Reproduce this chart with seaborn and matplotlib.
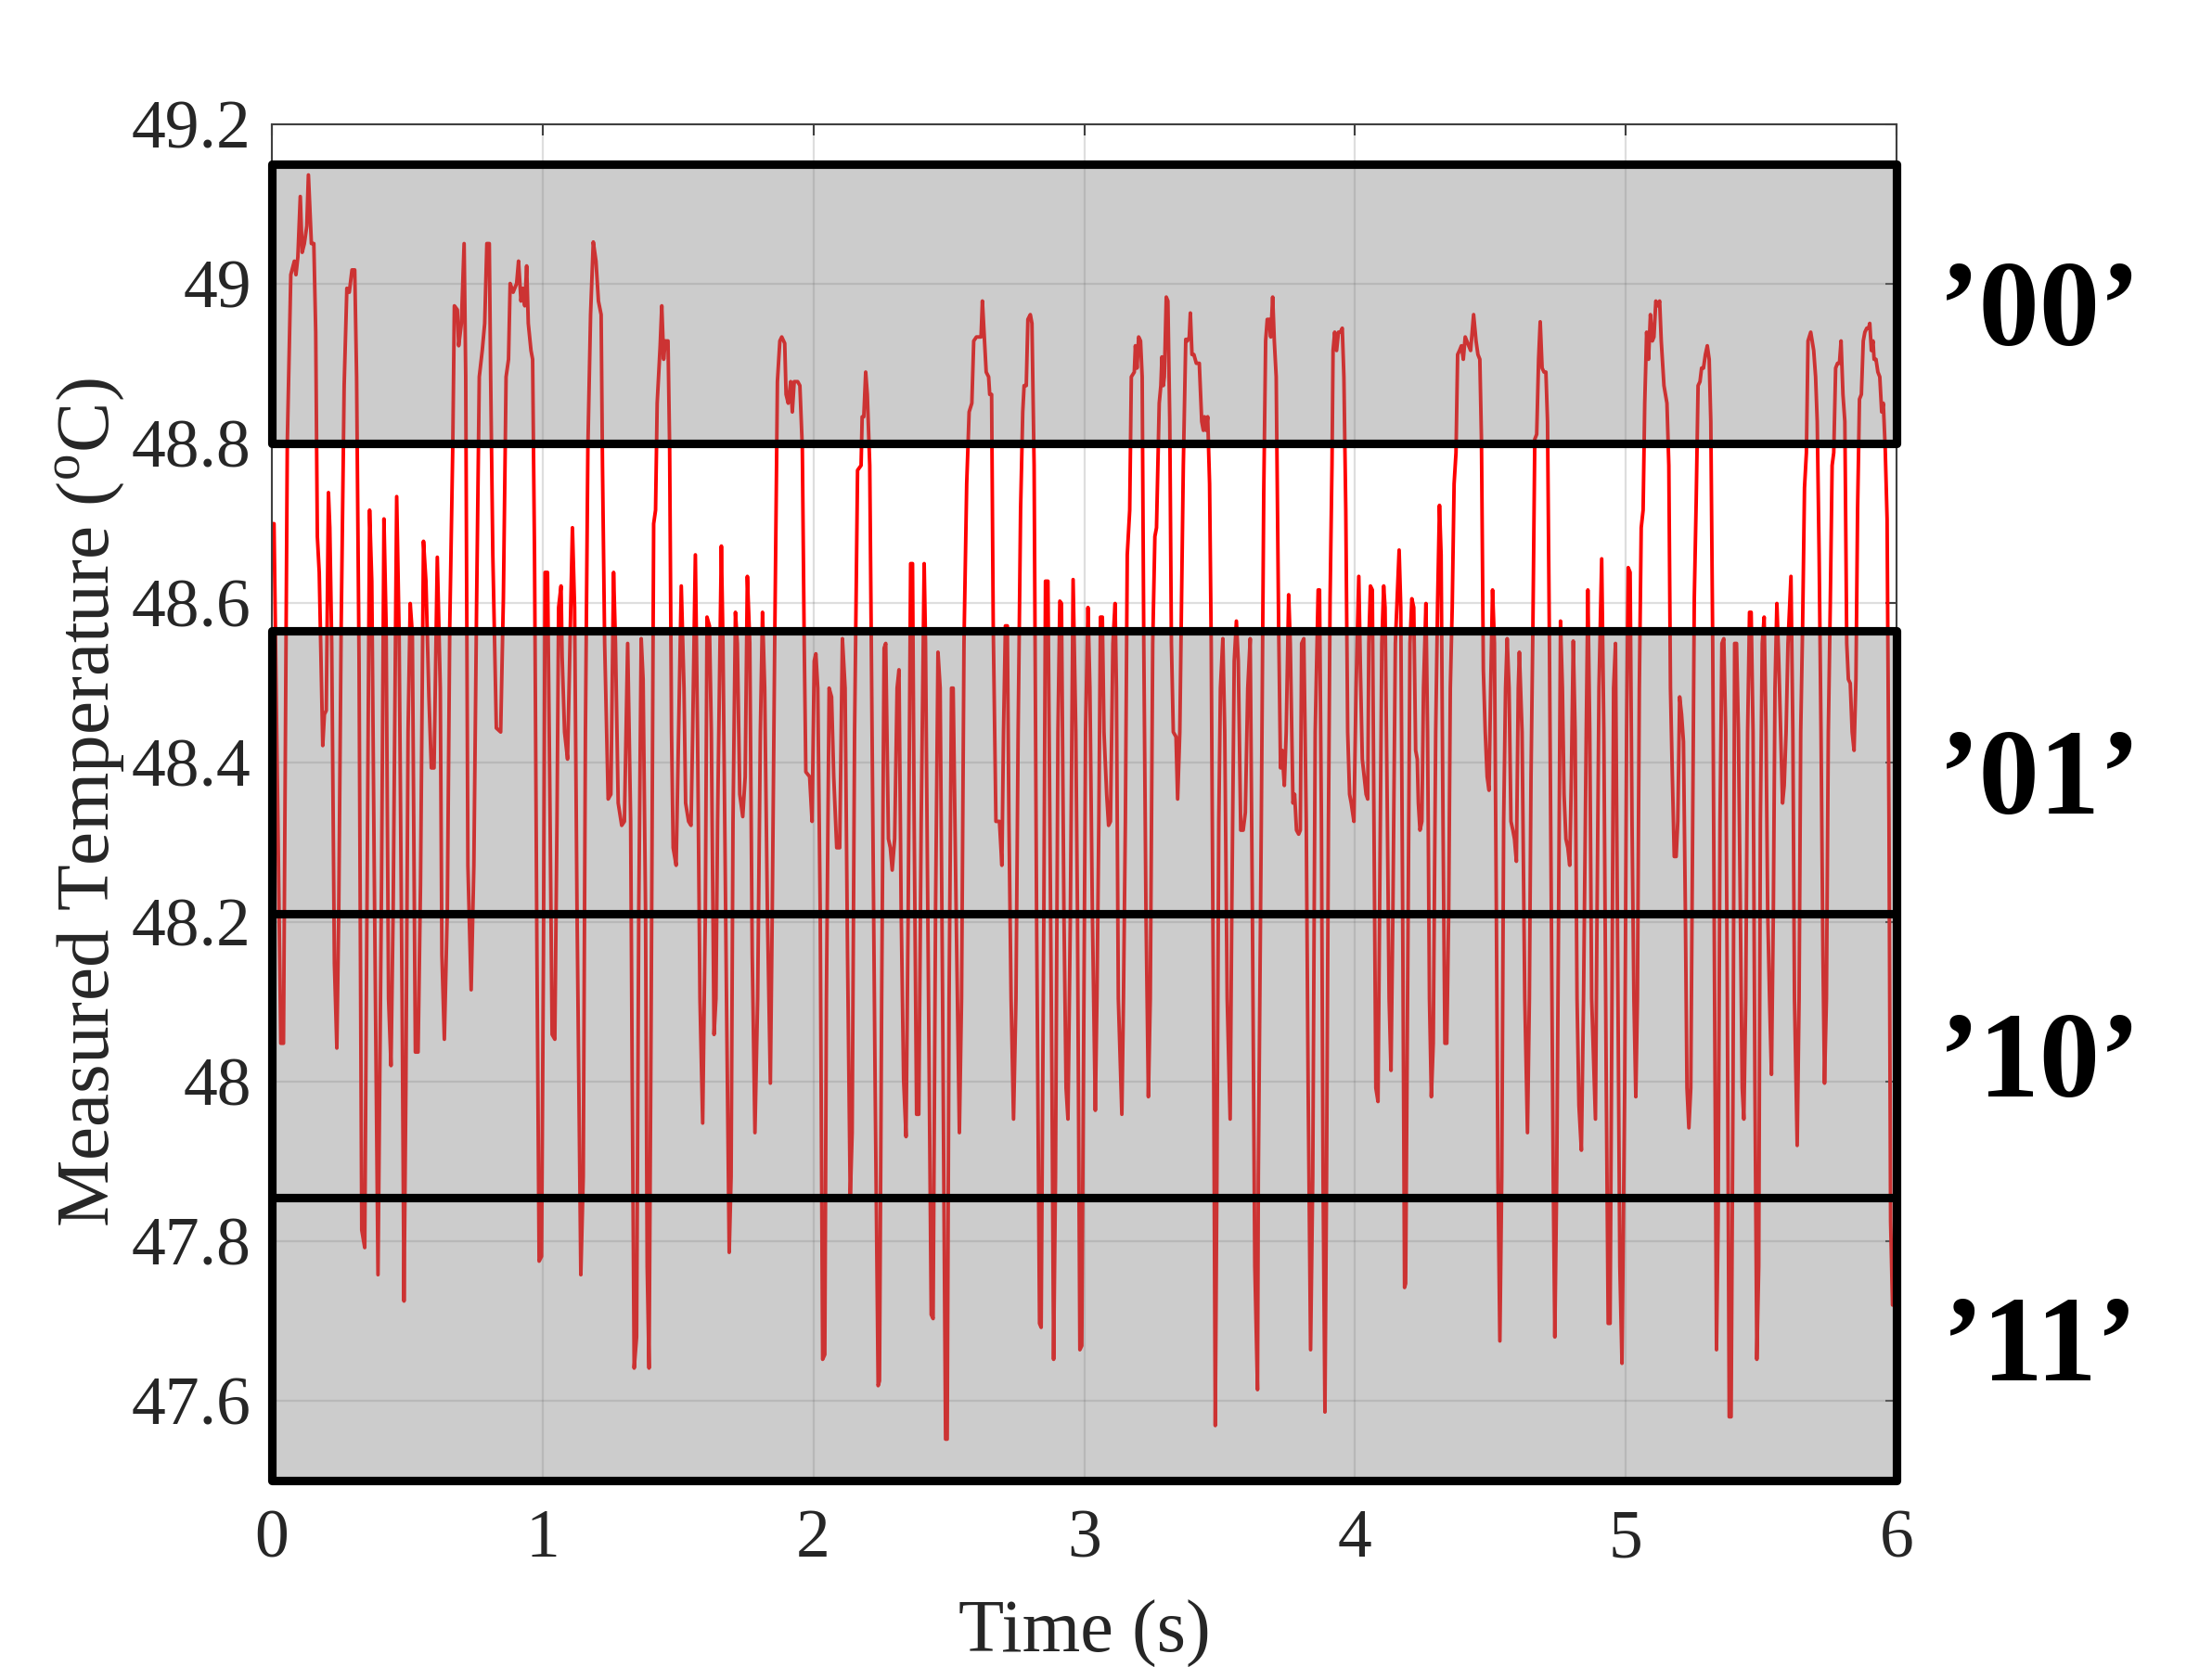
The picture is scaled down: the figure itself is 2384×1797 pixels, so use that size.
import matplotlib
matplotlib.use("Agg")
import matplotlib.pyplot as plt
from matplotlib.patches import Rectangle
from matplotlib.ticker import FuncFormatter
from matplotlib.transforms import ScaledTranslation
import seaborn as sns
import pandas as pd

# ---------------- data ----------------
time_a = [
    0.002, 0.008, 0.033, 0.043, 0.057, 0.070, 0.083, 0.089, 0.096, 0.105,
    0.112, 0.120, 0.129, 0.135, 0.146, 0.155, 0.162, 0.168, 0.175, 0.188,
    0.194, 0.201, 0.209, 0.214, 0.221, 0.231, 0.240, 0.247, 0.256, 0.267,
    0.277, 0.286, 0.296, 0.306, 0.313, 0.322, 0.332, 0.343, 0.352, 0.361,
    0.369, 0.378, 0.392, 0.405, 0.414, 0.422, 0.431, 0.440, 0.448, 0.461,
    0.470, 0.481, 0.488, 0.495, 0.503, 0.511, 0.519, 0.530, 0.540, 0.549,
    0.560, 0.569, 0.580, 0.589, 0.599, 0.611, 0.622, 0.628, 0.637, 0.648,
    0.657, 0.668, 0.674, 0.685, 0.690, 0.700, 0.710, 0.716, 0.724, 0.736,
    0.746, 0.756, 0.766, 0.777, 0.786, 0.794, 0.803, 0.808, 0.816, 0.829,
    0.845, 0.855, 0.865, 0.874, 0.880, 0.891, 0.897, 0.904, 0.911, 0.920,
    0.926, 0.934, 0.941, 0.947, 0.957, 0.963, 0.970, 0.979, 0.987, 0.996,
    1.003, 1.009, 1.018, 1.026, 1.035, 1.045, 1.053, 1.059, 1.068, 1.072,
    1.081, 1.092, 1.101, 1.110, 1.118, 1.127, 1.141, 1.150, 1.158, 1.167,
    1.177, 1.187, 1.197, 1.206, 1.216, 1.221, 1.229, 1.242, 1.252, 1.262,
    1.269, 1.279, 1.292, 1.302, 1.314, 1.325, 1.331, 1.338, 1.347, 1.355,
    1.364, 1.371, 1.380, 1.386, 1.393, 1.401, 1.410, 1.417, 1.423, 1.434,
    1.440, 1.447, 1.453, 1.463, 1.469, 1.476, 1.482, 1.493, 1.502, 1.512,
    1.522, 1.528, 1.539, 1.548, 1.554, 1.564, 1.572, 1.581, 1.591, 1.601,
    1.607, 1.616, 1.623, 1.633, 1.640, 1.646, 1.660, 1.666, 1.679, 1.689,
    1.696, 1.703, 1.712, 1.719, 1.728, 1.739, 1.748, 1.756, 1.765, 1.774,
    1.784, 1.794, 1.804, 1.812, 1.820, 1.830, 1.841, 1.848, 1.857, 1.867,
    1.876, 1.883, 1.894, 1.899, 1.907, 1.916, 1.922, 1.929, 1.942,
]
temp_a = [
    48.699, 48.699, 48.048, 48.048, 48.800, 49.011, 49.028, 49.011, 49.033, 49.109,
    49.039, 49.050, 49.072, 49.136, 49.050, 49.050, 48.939, 48.683, 48.638, 48.421,
    48.460, 48.465, 48.738, 48.694, 48.549, 48.148, 48.042, 48.215, 48.571, 48.872,
    48.994, 48.989, 49.017, 49.017, 48.883, 48.527, 47.814, 47.792, 48.248, 48.716,
    48.627, 48.271, 47.758, 48.248, 48.705, 48.571, 48.104, 48.020, 48.215, 48.733,
    48.560, 48.104, 47.725, 47.992, 48.438, 48.599, 48.560, 48.037, 48.037, 48.248,
    48.677, 48.627, 48.482, 48.393, 48.393, 48.657, 48.493, 48.159, 48.053, 48.215,
    48.571, 48.794, 48.972, 48.967, 48.922, 48.950, 49.050, 48.883, 48.271, 48.115,
    48.271, 48.594, 48.883, 48.916, 48.950, 49.050, 49.050, 48.883, 48.660, 48.443,
    48.438, 48.605, 48.883, 48.905, 49.000, 48.989, 48.994, 49.000, 49.028, 48.978,
    48.994, 48.972, 49.022, 48.950, 48.916, 48.905, 48.660, 48.159, 47.775, 47.781,
    48.159, 48.638, 48.638, 48.382, 48.059, 48.053, 48.326, 48.594, 48.621, 48.532,
    48.438, 48.404, 48.549, 48.694, 48.594, 48.215, 47.758, 47.881, 48.438, 48.794,
    48.961, 49.052, 49.028, 48.978, 48.961, 48.772, 48.549, 48.354, 48.360, 48.638,
    48.549, 48.349, 48.321, 48.326, 48.549, 48.326, 47.992, 47.641, 47.680, 48.215,
    48.555, 48.504, 48.215, 47.769, 47.641, 48.104, 48.699, 48.716, 48.850, 48.922,
    48.972, 48.905, 48.928, 48.928, 48.794, 48.438, 48.293, 48.271, 48.438, 48.621,
    48.493, 48.349, 48.326, 48.321, 48.438, 48.660, 48.438, 48.104, 47.948, 48.215,
    48.582, 48.571, 48.438, 48.059, 48.104, 48.326, 48.671, 48.549, 48.104, 47.786,
    47.881, 48.326, 48.588, 48.549, 48.360, 48.332, 48.382, 48.633, 48.549, 48.159,
    47.936, 48.104, 48.438, 48.588, 48.493, 48.215, 47.998, 48.215, 48.549, 48.877,
    48.928, 48.933, 48.925, 48.861, 48.850, 48.877, 48.839, 48.877, 48.877,
]

time_b = [
    1.950, 1.959, 1.966, 1.972, 1.986, 1.995, 2.003, 2.009, 2.016, 2.025,
    2.034, 2.042, 2.048, 2.058, 2.067, 2.075, 2.086, 2.097, 2.107, 2.117,
    2.126, 2.136, 2.143, 2.152, 2.163, 2.176, 2.180, 2.186, 2.193, 2.199,
    2.208, 2.218, 2.228, 2.239, 2.244, 2.252, 2.261, 2.267, 2.277, 2.284,
    2.291, 2.300, 2.309, 2.316, 2.324, 2.333, 2.342, 2.350, 2.359, 2.366,
    2.372, 2.381, 2.389, 2.398, 2.409, 2.414, 2.425, 2.435, 2.442, 2.451,
    2.460, 2.468, 2.477, 2.488, 2.494, 2.501, 2.510, 2.516, 2.527, 2.539,
    2.547, 2.556, 2.566, 2.575, 2.585, 2.592, 2.602, 2.611, 2.619, 2.624,
    2.632, 2.638, 2.647, 2.651, 2.658, 2.664, 2.674, 2.687, 2.696, 2.702,
    2.709, 2.716, 2.722, 2.730, 2.739, 2.748, 2.756, 2.765, 2.773, 2.778,
    2.786, 2.792, 2.801, 2.807, 2.815, 2.824, 2.835, 2.841, 2.851, 2.857,
    2.866, 2.873, 2.881, 2.887, 2.894, 2.903, 2.910, 2.916, 2.925, 2.933,
    2.940, 2.949, 2.959, 2.969, 2.975, 2.984, 2.991, 2.999, 3.005, 3.014,
    3.021, 3.030, 3.041, 3.047, 3.054, 3.060, 3.067, 3.073, 3.083, 3.090,
    3.097, 3.106, 3.114, 3.119, 3.126, 3.139, 3.145, 3.152, 3.159, 3.168,
    3.174, 3.185, 3.189, 3.195, 3.201, 3.208, 3.214, 3.220, 3.228, 3.237,
    3.244, 3.253, 3.261, 3.267, 3.277, 3.283, 3.287, 3.292, 3.296, 3.303,
    3.309, 3.316, 3.322, 3.329, 3.339, 3.345, 3.353, 3.359, 3.366, 3.375,
    3.381, 3.388, 3.392, 3.398, 3.405, 3.414, 3.425, 3.434, 3.440, 3.444,
    3.450, 3.456, 3.463, 3.469, 3.477, 3.484, 3.490, 3.497, 3.503, 3.512,
    3.519, 3.528, 3.539, 3.545, 3.554, 3.562, 3.569, 3.578, 3.587, 3.595,
    3.604, 3.613, 3.621, 3.630, 3.640, 3.643, 3.654, 3.663, 3.670, 3.676,
    3.683, 3.689, 3.696, 3.702, 3.709, 3.718, 3.725, 3.731, 3.739, 3.746,
    3.755, 3.761, 3.771, 3.777, 3.784, 3.792, 3.798, 3.803, 3.811, 3.820,
    3.827, 3.836, 3.844, 3.853, 3.864, 3.869, 3.876, 3.882, 3.889, 3.895,
    3.902, 3.908, 3.915, 3.919, 3.925,
]
temp_b = [
    48.872, 48.794, 48.549, 48.388, 48.382, 48.326, 48.527, 48.536, 48.493, 48.215,
    47.652, 47.658, 48.104, 48.493, 48.482, 48.382, 48.293, 48.293, 48.555, 48.493,
    48.159, 47.853, 47.936, 48.438, 48.766, 48.772, 48.833, 48.833, 48.889, 48.861,
    48.772, 48.382, 47.992, 47.619, 47.625, 48.104, 48.543, 48.549, 48.304, 48.293,
    48.265, 48.304, 48.493, 48.516, 48.215, 48.003, 47.931, 48.215, 48.649, 48.649,
    48.326, 47.959, 47.959, 48.326, 48.649, 48.549, 48.104, 47.708, 47.703, 48.215,
    48.538, 48.493, 48.104, 47.552, 47.552, 48.104, 48.493, 48.493, 48.215, 47.936,
    48.104, 48.549, 48.749, 48.839, 48.850, 48.928, 48.933, 48.933, 48.933, 48.978,
    48.928, 48.889, 48.883, 48.861, 48.861, 48.571, 48.326, 48.326, 48.271, 48.438,
    48.571, 48.571, 48.326, 48.104, 47.953, 48.104, 48.438, 48.716, 48.839, 48.872,
    48.872, 48.955, 48.961, 48.950, 48.772, 48.215, 47.697, 47.692, 48.215, 48.627,
    48.627, 48.326, 47.992, 47.652, 47.881, 48.438, 48.602, 48.599, 48.215, 47.992,
    47.953, 48.215, 48.629, 48.438, 48.215, 47.664, 47.669, 48.104, 48.438, 48.594,
    48.493, 48.215, 47.964, 48.104, 48.326, 48.582, 48.582, 48.438, 48.360, 48.321,
    48.326, 48.549, 48.599, 48.493, 48.104, 47.959, 48.104, 48.326, 48.660, 48.716,
    48.883, 48.889, 48.922, 48.894, 48.933, 48.928, 48.883, 48.549, 48.215, 47.981,
    48.104, 48.549, 48.683, 48.694, 48.850, 48.872, 48.908, 48.872, 48.883, 48.983,
    48.978, 48.827, 48.549, 48.438, 48.432, 48.354, 48.438, 48.594, 48.772, 48.930,
    48.928, 48.933, 48.963, 48.911, 48.911, 48.900, 48.900, 48.827, 48.816, 48.833,
    48.816, 48.833, 48.749, 48.549, 48.104, 47.569, 47.881, 48.326, 48.493, 48.555,
    48.438, 48.104, 47.953, 48.215, 48.527, 48.577, 48.527, 48.315, 48.315, 48.337,
    48.493, 48.555, 48.215, 47.769, 47.614, 47.881, 48.326, 48.738, 48.928, 48.955,
    48.955, 48.933, 48.983, 48.928, 48.883, 48.571, 48.393, 48.415, 48.371, 48.438,
    48.610, 48.549, 48.349, 48.360, 48.315, 48.310, 48.315, 48.549, 48.555, 48.326,
    47.992, 47.664, 47.881, 48.438, 48.616, 48.616, 48.326, 47.881, 47.586, 47.881,
    48.326, 48.605, 48.772, 48.916, 48.939,
]

time_c = [
    3.932, 3.939, 3.946, 3.953, 3.959, 3.966, 3.973, 3.980, 3.986, 3.996,
    4.004, 4.014, 4.020, 4.027, 4.034, 4.041, 4.047, 4.051, 4.057, 4.064,
    4.070, 4.077, 4.085, 4.091, 4.099, 4.106, 4.111, 4.118, 4.126, 4.133,
    4.140, 4.149, 4.163, 4.169, 4.176, 4.183, 4.187, 4.194, 4.203, 4.210,
    4.217, 4.224, 4.230, 4.234, 4.240, 4.247, 4.253, 4.262, 4.268, 4.275,
    4.282, 4.289, 4.298, 4.305, 4.312, 4.318, 4.325, 4.332, 4.339, 4.346,
    4.352, 4.359, 4.366, 4.373, 4.379, 4.386, 4.393, 4.400, 4.407, 4.413,
    4.420, 4.427, 4.438, 4.447, 4.454, 4.461, 4.467, 4.474, 4.481, 4.488,
    4.495, 4.501, 4.508, 4.515, 4.522, 4.528, 4.535, 4.542, 4.549, 4.556,
    4.562, 4.569, 4.576, 4.583, 4.589, 4.596, 4.603, 4.607, 4.617, 4.627,
    4.637, 4.644, 4.650, 4.657, 4.664, 4.671, 4.678, 4.684, 4.691, 4.698,
    4.705, 4.711, 4.718, 4.725, 4.732, 4.738, 4.745, 4.752, 4.759, 4.766,
    4.772, 4.779, 4.786, 4.793, 4.799, 4.806, 4.813, 4.820, 4.827, 4.836,
    4.844, 4.854, 4.860, 4.867, 4.874, 4.888, 4.894, 4.901, 4.911, 4.919,
    4.928, 4.935, 4.942, 4.949, 4.955, 4.962, 4.969, 4.978, 4.986, 4.996,
    5.003, 5.009, 5.016, 5.023, 5.030, 5.037, 5.043, 5.050, 5.057, 5.064,
    5.070, 5.077, 5.084, 5.091, 5.098, 5.104, 5.111, 5.118, 5.125, 5.131,
    5.141, 5.152, 5.159, 5.165, 5.172, 5.179, 5.186, 5.192, 5.199, 5.206,
    5.213, 5.220, 5.226, 5.233, 5.240, 5.247, 5.253, 5.260, 5.267, 5.274,
    5.280, 5.287, 5.294, 5.301, 5.308, 5.314, 5.321, 5.328, 5.335, 5.341,
    5.348, 5.355, 5.362, 5.369, 5.375, 5.382, 5.389, 5.396, 5.402, 5.409,
    5.416, 5.423, 5.430, 5.436, 5.443, 5.450, 5.457, 5.463, 5.470, 5.477,
    5.484, 5.491, 5.497, 5.504, 5.511, 5.518, 5.524, 5.531, 5.538, 5.545,
    5.551, 5.558, 5.565, 5.572, 5.579, 5.585, 5.592, 5.599, 5.610, 5.617,
    5.623, 5.633, 5.640, 5.646, 5.653, 5.660, 5.667, 5.673, 5.683, 5.694,
    5.701, 5.707, 5.714, 5.721, 5.728, 5.734, 5.741, 5.748, 5.755, 5.762,
    5.768, 5.775, 5.782, 5.789, 5.795, 5.802, 5.809, 5.816, 5.822, 5.829,
    5.836, 5.843, 5.850, 5.856, 5.863, 5.870, 5.877, 5.883, 5.890, 5.897,
    5.901, 5.907, 5.913, 5.917, 5.924, 5.931, 5.938, 5.945, 5.951, 5.958,
    5.965, 5.972, 5.978, 5.985,
]
temp_c = [
    48.916, 48.939, 48.939, 48.944, 48.883, 48.716, 48.438, 48.360, 48.349, 48.326,
    48.493, 48.633, 48.516, 48.404, 48.382, 48.360, 48.354, 48.549, 48.621, 48.616,
    48.326, 47.992, 47.975, 48.215, 48.549, 48.621, 48.594, 48.382, 48.104, 48.014,
    48.215, 48.549, 48.666, 48.594, 48.215, 47.742, 47.747, 48.104, 48.549, 48.605,
    48.594, 48.415, 48.404, 48.349, 48.315, 48.326, 48.493, 48.599, 48.438, 48.104,
    47.981, 48.048, 48.438, 48.599, 48.722, 48.660, 48.326, 48.048, 48.048, 48.215,
    48.493, 48.594, 48.749, 48.788, 48.911, 48.916, 48.922, 48.905, 48.933, 48.928,
    48.922, 48.916, 48.961, 48.928, 48.911, 48.905, 48.805, 48.516, 48.438, 48.382,
    48.365, 48.493, 48.616, 48.549, 48.215, 47.881, 47.675, 47.881, 48.326, 48.493,
    48.555, 48.493, 48.326, 48.315, 48.304, 48.276, 48.493, 48.538, 48.438, 48.104,
    47.936, 48.104, 48.382, 48.571, 48.805, 48.811, 48.905, 48.952, 48.894, 48.889,
    48.889, 48.827, 48.549, 48.215, 47.881, 47.680, 47.881, 48.215, 48.577, 48.493,
    48.360, 48.304, 48.293, 48.271, 48.382, 48.552, 48.438, 48.104, 47.970, 47.914,
    48.104, 48.438, 48.616, 48.438, 48.104, 47.953, 48.215, 48.493, 48.655, 48.438,
    47.992, 47.697, 47.697, 48.104, 48.493, 48.549, 48.215, 47.769, 47.647, 47.992,
    48.438, 48.644, 48.638, 48.326, 48.104, 47.981, 48.104, 48.493, 48.694, 48.716,
    48.850, 48.939, 48.905, 48.961, 48.928, 48.933, 48.978, 48.972, 48.978, 48.928,
    48.872, 48.850, 48.772, 48.493, 48.382, 48.282, 48.282, 48.326, 48.482, 48.460,
    48.426, 48.215, 47.992, 47.942, 47.992, 48.326, 48.605, 48.727, 48.872, 48.877,
    48.894, 48.894, 48.911, 48.922, 48.905, 48.827, 48.549, 48.104, 47.664, 47.825,
    48.326, 48.549, 48.555, 48.438, 48.104, 47.580, 47.580, 47.992, 48.549, 48.549,
    48.438, 48.215, 47.992, 47.953, 48.104, 48.438, 48.588, 48.588, 48.438, 47.992,
    47.652, 47.769, 48.326, 48.549, 48.582, 48.438, 48.215, 48.104, 48.009, 48.215,
    48.493, 48.599, 48.527, 48.438, 48.349, 48.371, 48.438, 48.549, 48.633, 48.438,
    48.104, 47.920, 48.104, 48.438, 48.571, 48.744, 48.788, 48.928, 48.939, 48.916,
    48.883, 48.827, 48.660, 48.438, 48.159, 47.998, 48.104, 48.438, 48.594, 48.772,
    48.788, 48.894, 48.900, 48.900, 48.928, 48.861, 48.827, 48.549, 48.504, 48.499,
    48.438, 48.415, 48.504, 48.716, 48.855, 48.861, 48.928, 48.939, 48.944, 48.944,
    48.950, 48.916, 48.928, 48.905, 48.905, 48.889, 48.883, 48.839, 48.850, 48.794,
    48.705, 48.326, 47.825, 47.720,
]

# level bands (temperature edges) and their codes
band_edges = [49.15, 48.80, 48.565, 48.21, 47.855, 47.50]
band_codes = ["\u201900\u2019", "\u201901\u2019", "\u201910\u2019", "\u201911\u2019"]

x_ticks = [0, 1, 2, 3, 4, 5, 6]
y_ticks = [47.6, 47.8, 48.0, 48.2, 48.4, 48.6, 48.8, 49.0, 49.2]
x_range = [0, 6]
y_range = [47.5, 49.2]

# ---------------- figure ----------------
sns.set_theme(style="white")
plt.rcParams["font.family"] = ["Liberation Serif", "DejaVu Serif"]
plt.rcParams["mathtext.fontset"] = "custom"
plt.rcParams["mathtext.rm"] = "Liberation Serif"

df = pd.DataFrame({"Time": time_a + time_b + time_c,
                   "Temp": temp_a + temp_b + temp_c})

fig = plt.figure(figsize=(11.92, 8.985), dpi=200)
ax = fig.add_axes([0.1229, 0.1118, 0.7345, 0.8139])

sns.lineplot(data=df, x="Time", y="Temp", ax=ax, color="#ff0000",
             linewidth=1.4, sort=False, estimator=None, zorder=2)

ax.set_xlim(*x_range)
ax.set_ylim(*y_range)
ax.set_xticks(x_ticks)
ax.set_yticks(y_ticks)
ax.yaxis.set_major_formatter(FuncFormatter(lambda v, p: f"{v:g}"))
ax.xaxis.set_major_formatter(FuncFormatter(lambda v, p: f"{v:g}"))

ax.grid(True, color="#262626", alpha=0.15, linewidth=0.8)
ax.set_axisbelow(True)
for sp in ax.spines.values():
    sp.set_color("#404040")
    sp.set_linewidth(0.75)
    sp.set_visible(True)

ax.tick_params(axis="both", direction="in", length=4.3, width=0.75,
               color="#404040", top=True, right=True, labelsize=26.5,
               labelcolor="#262626")
ax.tick_params(axis="x", pad=11)
ax.tick_params(axis="y", pad=8)

ax.set_xlabel("Time (s)", fontsize=29, color="#262626", labelpad=11)
ax.set_ylabel(r"Measured Temperature ($^{\rm o}$C)", fontsize=29.3,
              color="#262626", labelpad=2)

# gray level boxes with thick black borders
box_face = (0.5, 0.5, 0.5, 0.4)
lw_box = 3.3
for hi, lo in ((band_edges[0], band_edges[1]), (band_edges[2], band_edges[5])):
    ax.add_patch(Rectangle((x_range[0], lo), x_range[1] - x_range[0], hi - lo,
                           facecolor=box_face, edgecolor="black",
                           linewidth=lw_box, joinstyle="round",
                           zorder=3, clip_on=False))
for yv in band_edges[3:5]:
    ax.axhline(yv, color="black", linewidth=lw_box, zorder=4, clip_on=False)

# codes to the right of the axes, centred on each band
centers = [(band_edges[0] + band_edges[1]) / 2,
           (band_edges[2] + band_edges[3]) / 2,
           (band_edges[3] + band_edges[4]) / 2,
           (band_edges[4] + band_edges[5]) / 2]
shift = ax.transData + ScaledTranslation(0, -0.065, fig.dpi_scale_trans)
for code, yc in zip(band_codes, centers):
    ax.text(6.53, yc, code, fontsize=47, fontweight="bold", color="black",
            ha="center", va="center", clip_on=False, transform=shift)

fig.savefig("out.png", dpi=200)
